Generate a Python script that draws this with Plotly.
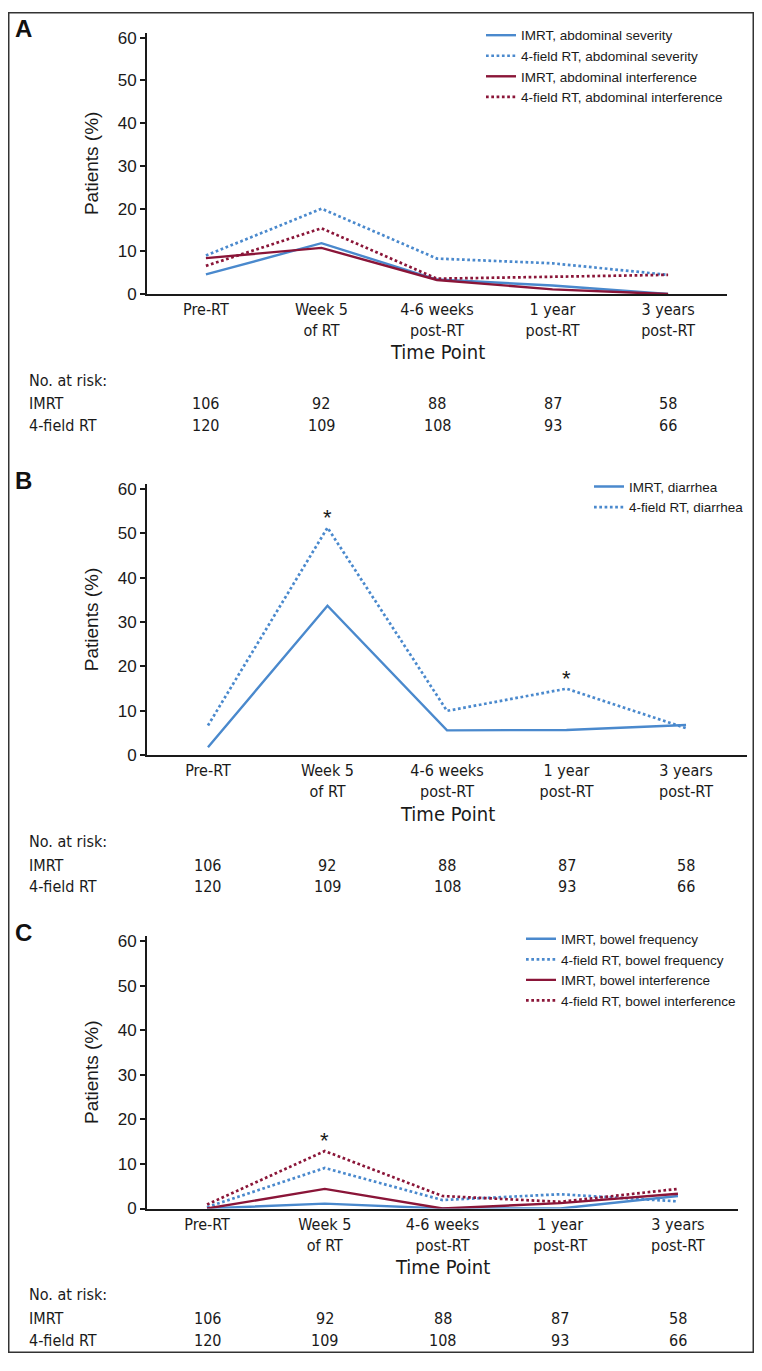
import plotly.graph_objects as go

W, H = 762, 1371
OFF = 8  # default page margin around the plot div
FW, FH = W - 2 * OFF, H - 2 * OFF

categories = ["Pre-RT", "Week 5<br>of RT", "4-6 weeks<br>post-RT", "1 year<br>post-RT", "3 years<br>post-RT"]
imrt_n = [106, 92, 88, 87, 58]
field_n = [120, 109, 108, 93, 66]

# panel A
a_imrt_sev = [4.6, 11.9, 3.4, 2.0, 0.0]
a_4f_sev = [9.0, 20.0, 8.3, 7.2, 4.5]
a_imrt_int = [8.4, 10.8, 3.3, 1.1, 0.0]
a_4f_int = [6.6, 15.4, 3.6, 4.1, 4.5]
# panel B
b_imrt = [1.8, 33.7, 5.6, 5.7, 6.8]
b_4f = [6.7, 51.3, 10.0, 15.0, 6.1]
# panel C
c_imrt_freq = [0.0, 1.1, 0.0, 0.0, 2.8]
c_4f_freq = [0.3, 9.1, 1.9, 3.2, 1.6]
c_imrt_int = [0.0, 4.4, 0.0, 1.2, 3.3]
c_4f_int = [0.9, 12.9, 2.8, 1.5, 4.4]

BLUE = "#4a89cd"
RED = "#8a1538"
INK = "#1a1a1a"
SANS = "Liberation Sans, Arial, sans-serif"
NARROW = "Liberation Sans Narrow, DejaVu Sans Condensed, sans-serif"


def py(p):
    return 1 - (p - OFF) / FH


def px(p):
    return (p - OFF) / FW


# pixel layout of each panel (page coords): y of value 60, y of 0, right end of x axis
panels = [
    dict(letter="A", y60=34, y0=293, right=727,
         series=[("IMRT, abdominal severity", a_imrt_sev, BLUE, "solid"),
                 ("4-field RT, abdominal severity", a_4f_sev, BLUE, "dot"),
                 ("IMRT, abdominal interference", a_imrt_int, RED, "solid"),
                 ("4-field RT, abdominal interference", a_4f_int, RED, "dot")],
         stars=[], leg_x=481),
    dict(letter="B", y60=490, y0=759, right=747,
         series=[("IMRT, diarrhea", b_imrt, BLUE, "solid"),
                 ("4-field RT, diarrhea", b_4f, BLUE, "dot")],
         stars=[(1, b_4f), (3, b_4f)], leg_x=589),
    dict(letter="C", y60=947, y0=1217, right=738,
         series=[("IMRT, bowel frequency", c_imrt_freq, BLUE, "solid"),
                 ("4-field RT, bowel frequency", c_4f_freq, BLUE, "dot"),
                 ("IMRT, bowel interference", c_imrt_int, RED, "solid"),
                 ("4-field RT, bowel interference", c_4f_int, RED, "dot")],
         stars=[(1, c_4f_int)], leg_x=521),
]

fig = go.Figure()
layout = dict(width=FW, height=FH, margin=dict(l=0, r=0, t=0, b=0),
              paper_bgcolor="white", plot_bgcolor="white", showlegend=True)
annotations = []
YTOP = 61.2

for i, p in enumerate(panels):
    n = "" if i == 0 else str(i + 1)
    scale = (p["y0"] - p["y60"]) / 60.0
    ytop_px = p["y0"] - YTOP * scale
    leg = "legend" + n
    for name, vals, col, dash in p["series"]:
        fig.add_trace(go.Scatter(
            x=list(range(len(categories))), y=vals, mode="lines", name=name,
            line=dict(color=col, width=2.4 if dash == "solid" else 2.7,
                      dash="solid" if dash == "solid" else "2.7px,2.6px"),
            xaxis="x" + n, yaxis="y" + n, legend=leg))
    layout["xaxis" + n] = dict(
        domain=[px(147), px(p["right"])], anchor="y" + n, range=[-0.51, 4.51],
        tickvals=list(range(len(categories))), ticktext=categories,
        showline=True, linecolor=INK, linewidth=2, ticks="",
        showgrid=False, zeroline=False,
        tickfont=dict(family=NARROW, size=16, color=INK))
    layout["yaxis" + n] = dict(
        domain=[py(p["y0"]), py(ytop_px)], anchor="x" + n, range=[0, YTOP],
        tickvals=[0, 10, 20, 30, 40, 50, 60], showline=True,
        linecolor=INK, linewidth=2, ticks="outside", ticklen=5,
        tickcolor=INK, tickwidth=1.5, showgrid=False, zeroline=False,
        tickfont=dict(family=SANS, size=17, color=INK),
        title=dict(text="Patients (%)", standoff=14,
                   font=dict(family=SANS, size=19, color=INK)))
    layout[leg] = dict(x=px(p["leg_x"]), y=py(p["y60"] - 18), xanchor="left",
                       yanchor="top", bgcolor="rgba(0,0,0,0)",
                       font=dict(family=SANS, size=13.5, color=INK),
                       tracegroupgap=0, itemwidth=30)
    # panel letter
    annotations.append(dict(text="<b>%s</b>" % p["letter"], xref="paper", yref="paper",
                            x=px(13), y=py(p["y60"] - 9), xanchor="left", yanchor="middle",
                            showarrow=False, font=dict(family=SANS, size=24, color="#111")))
    # x title
    annotations.append(dict(text="Time Point", xref="x" + n + " domain", yref="paper",
                            x=0.5, y=py(p["y0"] + 59), xanchor="center", yanchor="middle",
                            showarrow=False, font=dict(family=NARROW, size=20, color=INK)))
    # at risk table
    rows = [("No. at risk:", None, 87), ("IMRT", imrt_n, 111), ("4-field RT", field_n, 133)]
    for label, vals, dy in rows:
        annotations.append(dict(text=label, xref="paper", yref="paper", x=px(27),
                                y=py(p["y0"] + dy), xanchor="left", yanchor="middle",
                                showarrow=False,
                                font=dict(family=NARROW, size=16, color=INK)))
        if vals:
            for k, v in enumerate(vals):
                annotations.append(dict(text=str(v), xref="x" + n, yref="paper", x=k,
                                        y=py(p["y0"] + dy), xanchor="center",
                                        yanchor="middle", showarrow=False,
                                        font=dict(family=NARROW, size=16, color=INK)))
    # significance asterisks
    for k, vals in p["stars"]:
        annotations.append(dict(text="*", xref="x" + n, yref="y" + n, x=k, y=vals[k],
                                yshift=-4, xanchor="center", yanchor="bottom",
                                showarrow=False,
                                font=dict(family=SANS, size=22, color=INK)))

layout["annotations"] = annotations
layout["shapes"] = [dict(type="rect", xref="paper", yref="paper", x0=0.001, x1=0.999,
                         y0=0.0006, y1=0.9994, line=dict(color="#333", width=1.5))]
fig.update_layout(**layout)

fig.write_html("out.html")
